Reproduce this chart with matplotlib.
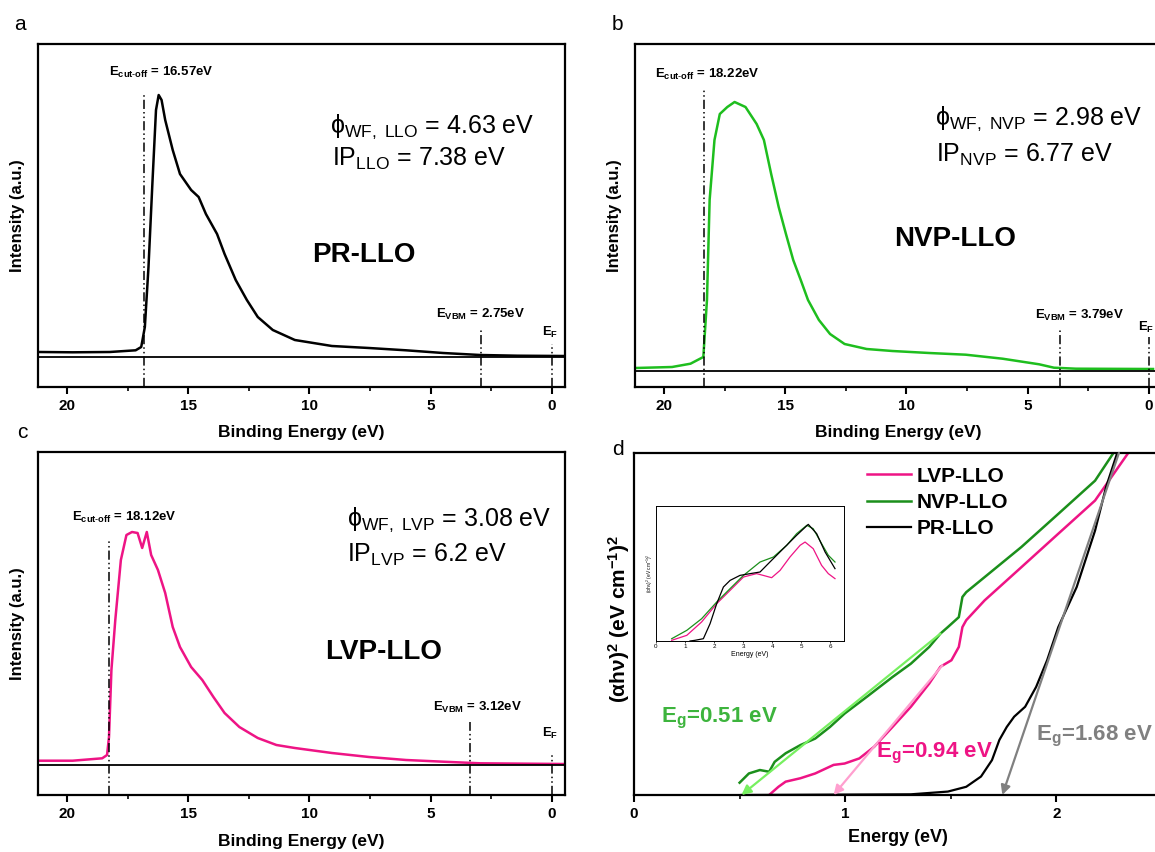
import matplotlib
matplotlib.use('Agg')
import matplotlib.pyplot as plt
from matplotlib.ticker import MultipleLocator

plt.rcParams['font.family'] = ['Liberation Sans', 'DejaVu Sans']
plt.rcParams['font.weight'] = 'bold'
plt.rcParams['axes.labelweight'] = 'bold'
plt.rcParams['mathtext.fontset'] = 'custom'
plt.rcParams['mathtext.rm'] = 'Liberation Sans:weight=normal'
plt.rcParams['mathtext.bf'] = 'Liberation Sans:bold'
plt.rcParams['mathtext.it'] = 'Liberation Sans:italic:weight=normal'

# UPS spectra (binding energy eV, intensity a.u.)
pr_be = [21.15, 19.77, 18.24, 17.17, 16.94, 16.79, 16.64, 16.48, 16.33, 16.22, 16.10, 15.95,
         15.64, 15.34, 14.88, 14.57, 14.27, 13.81, 13.50, 13.04, 12.58, 12.13, 11.51, 10.60,
         9.07, 7.54, 6.01, 4.48, 2.95, 1.42, -0.49]
pr_int = [5.0, 4.7, 5.0, 6.7, 10, 30, 90, 173, 247, 262, 257, 237,
          207, 183, 167, 160, 143, 123, 103, 77, 57, 40, 27, 17,
          11, 9, 6.7, 4, 2, 1.3, 1]

nvp_be = [21.18, 19.67, 18.91, 18.38, 18.23, 18.12, 17.92, 17.70, 17.39, 17.09, 16.64, 16.18,
          15.88, 15.58, 15.27, 14.97, 14.67, 14.36, 14.06, 13.61, 13.15, 12.55, 11.64, 10.58,
          9.06, 7.55, 6.03, 4.52, 3.91, 3.00, -0.18]
nvp_int = [3, 4, 7.3, 14, 71, 171, 231, 257, 264, 269, 264, 247,
           231, 197, 164, 137, 111, 91, 71, 51, 37, 27, 22, 20,
           18, 16.3, 12.3, 6.7, 3.3, 2.3, 2]

lvp_be = [21.22, 19.77, 18.55, 18.35, 18.27, 18.17, 18.01, 17.78, 17.55, 17.32, 17.09, 16.90,
          16.71, 16.53, 16.25, 15.95, 15.64, 15.34, 14.88, 14.42, 13.96, 13.50, 12.89, 12.13,
          11.36, 10.60, 9.07, 7.54, 6.01, 4.48, 2.95, -0.49]
lvp_int = [4.3, 4.3, 6.7, 10, 28, 95, 145, 205, 230, 233, 232, 217,
           233, 210, 195, 172, 138, 118, 98, 85, 68, 52, 38, 27,
           20, 17, 12, 8, 5, 3.3, 1.7, 1]

# marker lines: cut-off, VBM, Fermi level
pr_marks = [16.82, 2.92, 0.0]
nvp_marks = [18.35, 3.65, 0.0]
lvp_marks = [18.27, 3.36, 0.0]

# Tauc plot (energy eV, (ahv)^2 a.u.)
tauc_nvp_e = [0.500, 0.544, 0.596, 0.640, 0.666, 0.718, 0.788, 0.858, 0.928, 0.997, 1.102, 1.224,
              1.311, 1.398, 1.451, 1.486, 1.538, 1.555, 1.573, 1.660, 1.834, 2.009, 2.183, 2.270]
tauc_nvp_y = [3.6, 6.3, 7.3, 6.8, 9.7, 12.2, 14.6, 16.5, 19.9, 23.8, 28.7, 34.5,
              38.4, 43.3, 47.2, 49.1, 52.0, 57.9, 59.3, 63.7, 72.5, 82.2, 91.9, 100]
tauc_lvp_e = [0.640, 0.684, 0.718, 0.788, 0.858, 0.945, 0.997, 1.067, 1.137, 1.224, 1.311, 1.398,
              1.451, 1.503, 1.538, 1.555, 1.573, 1.660, 1.834, 2.009, 2.183, 2.340]
tauc_lvp_y = [0, 2.4, 3.9, 4.9, 6.3, 8.8, 9.2, 10.7, 14.1, 19.9, 25.8, 32.6,
              37.5, 39.4, 43.3, 49.1, 51.1, 56.9, 66.6, 76.4, 86.1, 100]
tauc_pr_e = [0.509, 1.311, 1.486, 1.573, 1.643, 1.695, 1.730, 1.765, 1.800, 1.852, 1.904, 1.956,
             2.009, 2.096, 2.183, 2.235, 2.288]
tauc_pr_y = [0, 0.2, 1.0, 2.4, 5.4, 10.2, 16.1, 19.9, 22.9, 25.8, 31.6, 39.4,
             49.1, 60.8, 77.3, 90.0, 100]

# linear fits: (start x, start y, intercept x)
fit_nvp = (1.451, 47.2, 0.509)
fit_lvp = (1.460, 37.9, 0.945)
fit_pr = (2.296, 100, 1.744)

# inset: full range absorption
in_nvp_e = [0.54, 1.06, 1.57, 2.09, 2.55, 3.01, 3.58, 4.04, 4.50, 4.84, 5.19, 5.41, 5.70, 5.93, 6.16]
in_nvp_y = [1.7, 7.9, 16.5, 28.9, 38.8, 48.6, 58.5, 62.2, 70.9, 79.5, 85.7, 83.2, 72.1, 63.5, 58.5]
in_pr_e = [1.17, 1.34, 1.63, 1.86, 2.09, 2.32, 2.55, 2.89, 3.24, 3.58, 3.92, 4.38, 4.84, 5.24, 5.53, 5.82, 6.16]
in_pr_y = [0, 0.5, 1.7, 12.8, 27.7, 40, 44.9, 48.6, 49.9, 51.1, 58.5, 68.4, 78.3, 86.4, 79.5, 65.9, 53.6]
in_lvp_e = [0.54, 1.06, 1.57, 2.09, 2.55, 3.01, 3.46, 3.69, 3.98, 4.27, 4.61, 4.96, 5.13, 5.41, 5.70, 5.93, 6.16]
in_lvp_y = [0.5, 4.2, 14.1, 27.7, 37.5, 47.4, 49.9, 48.6, 46.9, 52.3, 62.2, 70.9, 73.3, 68.4, 56, 49.9, 46.2]

green_b = '#1ebe1e'
green_d = '#1b8f1b'
magenta = '#ee1485'

W, H = 1155, 852
fig = plt.figure(figsize=(W / 100, H / 100), dpi=100)


def px_axes(l, t, r, b):
    return fig.add_axes([l / W, 1 - b / H, (r - l) / W, (b - t) / H])


def style(ax, major, minor):
    for s in ax.spines.values():
        s.set_linewidth(1.6)
    ax.xaxis.set_major_locator(MultipleLocator(major))
    ax.xaxis.set_minor_locator(MultipleLocator(minor))
    ax.tick_params(axis='x', which='major', direction='out', length=5, width=1.5, labelsize=11, pad=4)
    ax.tick_params(axis='x', which='minor', direction='out', length=3, width=1.2)
    ax.tick_params(axis='y', left=False, labelleft=False)


def ups(ax, be, inten, color, marks, ylo, yhi, mark_tops, texts):
    ax.plot(be, inten, color=color, lw=1.8)
    ax.axhline(0, color='black', lw=1.3)
    ax.set_xlim(21.2, -0.55)
    ax.set_ylim(ylo, yhi)
    style(ax, 5, 2.5)
    for m, top in zip(marks, mark_tops):
        ax.plot([m, m], [ylo, top], color='black', lw=1.1, ls=(0, (6, 2, 1, 2, 1, 2)))
    ax.set_xlabel('Binding Energy (eV)', fontsize=12.5)
    ax.set_ylabel('Intensity (a.u.)', fontsize=12)
    ax.xaxis.label.set_va('center')
    ax.yaxis.label.set_va('center')
    ax.yaxis.set_label_coords(-0.038, 0.5)
    cut, phi, ip, name, vbm, ef = texts
    ax.text(cut[0], cut[1], cut[2], fontsize=9.5, ha='center', va='center')
    ax.text(phi[0], phi[1], phi[2], fontsize=18, fontweight='normal', ha='left', va='center')
    ax.text(ip[0], ip[1], ip[2], fontsize=18, fontweight='normal', ha='left', va='center')
    ax.text(name[0], name[1], name[2], fontsize=20, ha='center', va='center')
    ax.text(vbm[0], vbm[1], vbm[2], fontsize=9.5, ha='center', va='center')
    ax.text(ef[0], ef[1], 'E$_\\mathbf{F}$', fontsize=9.5, ha='center', va='center')


ax_a = px_axes(38, 44, 565, 387)
ups(ax_a, pr_be, pr_int, 'black', pr_marks, -30, 313, [262, 27, 13],
    [(16.1, 285, r'E$_\mathbf{cut\text{-}off}$ = 16.57eV'),
     (9.14, 230, 'ϕ$_\\mathrm{WF,\\ LLO}$ = 4.63 eV'),
     (9.07, 198, 'IP$_\\mathrm{LLO}$ = 7.38 eV'),
     (7.74, 102, 'PR-LLO'),
     (2.95, 43, 'E$_\\mathbf{VBM}$ = 2.75eV'),
     (0.05, 25, '')])
ax_a.xaxis.set_label_coords(0.5, -0.134)

ax_b = px_axes(635, 44, 1162, 387)
ups(ax_b, nvp_be, nvp_int, green_b, nvp_marks, -16, 327, [282, 41, 34],
    [(18.23, 297, r'E$_\mathbf{cut\text{-}off}$ = 18.22eV'),
     (8.83, 252, 'ϕ$_\\mathrm{WF,\\ NVP}$ = 2.98 eV'),
     (8.79, 216, 'IP$_\\mathrm{NVP}$ = 6.77 eV'),
     (8.0, 132, 'NVP-LLO'),
     (2.85, 56, 'E$_\\mathbf{VBM}$ = 3.79eV'),
     (0.12, 44, '')])
ax_b.xaxis.set_label_coords(0.5, -0.134)

ax_c = px_axes(38, 452, 565, 795)
ups(ax_c, lvp_be, lvp_int, magenta, lvp_marks, -30, 313, [225, 43, 12],
    [(17.63, 248, r'E$_\mathbf{cut\text{-}off}$ = 18.12eV'),
     (8.46, 245, 'ϕ$_\\mathrm{WF,\\ LVP}$ = 3.08 eV'),
     (8.46, 210, 'IP$_\\mathrm{LVP}$ = 6.2 eV'),
     (6.93, 113, 'LVP-LLO'),
     (3.06, 58, 'E$_\\mathbf{VBM}$ = 3.12eV'),
     (0.05, 32, '')])
ax_c.xaxis.set_label_coords(0.5, -0.137)

# panel d, Tauc plot
ax_d = px_axes(634, 453, 1162, 795)
ax_d.plot(tauc_lvp_e, tauc_lvp_y, color=magenta, lw=1.8, label='LVP-LLO')
ax_d.plot(tauc_nvp_e, tauc_nvp_y, color=green_d, lw=1.8, label='NVP-LLO')
ax_d.plot(tauc_pr_e, tauc_pr_y, color='black', lw=1.6, label='PR-LLO')
for (x0, y0, x1), c in zip([fit_nvp, fit_lvp, fit_pr], ['#77f060', '#ff9fcf', '#808080']):
    ax_d.annotate('', xy=(x1, 0), xytext=(x0, y0),
                  arrowprops=dict(arrowstyle='-|>', color=c, lw=1.6, mutation_scale=14,
                                  shrinkA=0, shrinkB=0))
ax_d.set_xlim(0, 2.5)
ax_d.set_ylim(0, 100)
style(ax_d, 1, 0.5)
ax_d.set_xlabel('Energy (eV)', fontsize=13)
ax_d.set_ylabel('(αhν)$^\\mathbf{2}$ (eV cm$^\\mathbf{-1}$)$^\\mathbf{2}$', fontsize=15)
ax_d.xaxis.label.set_va('center')
ax_d.yaxis.label.set_va('center')
ax_d.xaxis.set_label_coords(0.5, -0.123)
ax_d.yaxis.set_label_coords(-0.029, 0.516)
ax_d.legend(loc='upper left', bbox_to_anchor=(0.441, 0.96), frameon=False, fontsize=15,
            handlelength=2.1, handletextpad=0.3, labelspacing=0.35, borderpad=0, borderaxespad=0)
ax_d.text(0.126, 22.4, 'E$_\\mathbf{g}$=0.51 eV', color='#3db43d', fontsize=16, ha='left', va='center')
ax_d.text(1.146, 12.2, 'E$_\\mathbf{g}$=0.94 eV', color=magenta, fontsize=16, ha='left', va='center')
ax_d.text(1.904, 17.0, 'E$_\\mathbf{g}$=1.68 eV', color='#808080', fontsize=16, ha='left', va='center')

ax_in = px_axes(656, 506, 844, 641)
ax_in.plot(in_lvp_e, in_lvp_y, color=magenta, lw=0.9)
ax_in.plot(in_nvp_e, in_nvp_y, color=green_d, lw=0.9)
ax_in.plot(in_pr_e, in_pr_y, color='black', lw=0.9)
ax_in.set_xlim(0, 6.47)
ax_in.set_ylim(0, 100)
for s in ax_in.spines.values():
    s.set_linewidth(0.7)
ax_in.set_xticks(range(7))
ax_in.tick_params(axis='x', length=1.5, width=0.5, labelsize=4.5, pad=1)
ax_in.tick_params(axis='y', left=False, labelleft=False)
for t in ax_in.get_xticklabels():
    t.set_fontweight('normal')
ax_in.set_xlabel('Energy (eV)', fontsize=5, fontweight='normal', labelpad=1)
ax_in.set_ylabel('(αhν)$^2$ (eV cm$^{-1}$)$^2$', fontsize=3.5, fontweight='normal', labelpad=1)

# panel letters
fig.text(20 / W, 1 - 25 / H, 'a', fontsize=15, fontweight='normal', ha='center', va='center')
fig.text(617 / W, 1 - 25 / H, 'b', fontsize=15, fontweight='normal', ha='center', va='center')
fig.text(22 / W, 1 - 433 / H, 'c', fontsize=15, fontweight='normal', ha='center', va='center')
fig.text(618 / W, 1 - 450 / H, 'd', fontsize=15, fontweight='normal', ha='center', va='center')

fig.savefig('out.png', dpi=100)
